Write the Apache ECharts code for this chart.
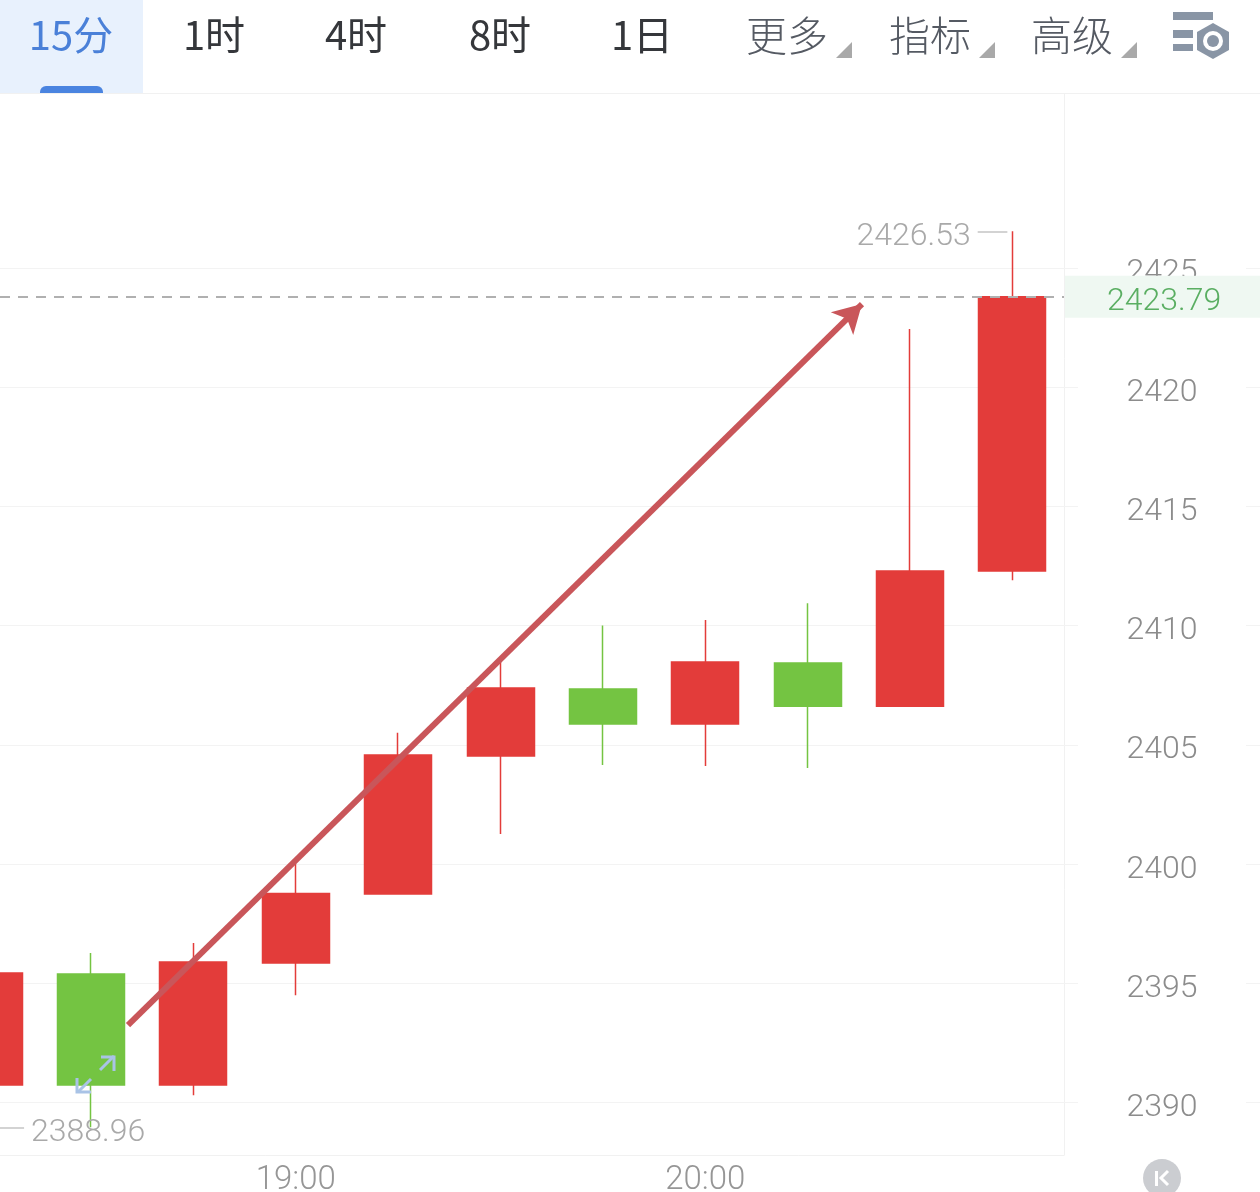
<!DOCTYPE html>
<html><head><meta charset="utf-8">
<style>html,body{margin:0;padding:0;background:#fff}#c{width:1260px;height:1192px}</style>
<script src="https://cdn.jsdelivr.net/npm/echarts@6/dist/echarts.min.js"></script>
</head><body><div id="c"></div>
<script>
const times = ['18:15','18:30','18:45','19:00','19:15','19:30','19:45','20:00','20:15','20:30','20:45'];
const opens  = [2390.73,2395.39,2390.73,2395.85,2398.74,2404.53,2407.34,2405.87,2408.43,2406.62,2412.29];
const closes = [2395.43,2390.73,2395.89,2398.76,2404.57,2407.38,2405.87,2408.47,2406.62,2412.29,2423.79];
const lows   = [2390.73,2388.96,2390.31,2394.50,2398.74,2401.26,2404.15,2404.11,2404.03,2406.62,2411.90];
const highs  = [2395.43,2396.27,2396.69,2400.00,2405.50,2408.55,2410.00,2410.23,2410.94,2422.43,2426.53];
const yTicks = [2390,2395,2400,2405,2410,2415,2420,2425];
const xTicks = [3,7];
const lastPrice = 2423.79;
const highLabel = {value:2426.53, from:9.66, to:9.95};
const lowLabel  = {value:2388.96, from:0.112, to:0.347};
const arrowFrom = [1.362,2393.25];
const arrowTo   = [8.53,2423.48];
const tabs = [['15分',71],['1时',214],['4时',356],['8时',500],['1日',642]];
const menus = [['更多',787],['指标',930],['高级',1072]];

const NUM = 'Roboto, sans-serif';
const CJK = '"Noto Sans CJK SC", sans-serif';
const G = '#f3f3f3';
const candles = times.map((t,i)=>[i,opens[i],closes[i],lows[i],highs[i]]);

const graphic = [
  {type:'rect',z:100,shape:{x:0,y:0,width:1260,height:93},style:{fill:'#fff'}},
  {type:'rect',z:101,shape:{x:0,y:0,width:143,height:93},style:{fill:'#e8f1fd'}},
  {type:'rect',z:102,shape:{x:40,y:86,width:63,height:7,r:[6,6,0,0]},style:{fill:'#4a84e0'}},
  {type:'line',z:101,shape:{x1:0,y1:93.5,x2:1260,y2:93.5},style:{stroke:'#f1f1f1',lineWidth:1}},
  {type:'rect',z:102,shape:{x:1173,y:12,width:40,height:8},style:{fill:'#8995a5'}},
  {type:'rect',z:102,shape:{x:1173,y:30,width:20,height:8},style:{fill:'#8995a5'}},
  {type:'rect',z:102,shape:{x:1173,y:44,width:20,height:7},style:{fill:'#8995a5'}},
  {type:'polygon',z:102,shape:{points:[[1213,23],[1229,32],[1229,50],[1213,59],[1197,50],[1197,32]]},style:{fill:'#8995a5'}},
  {type:'circle',z:103,shape:{cx:1213,cy:41,r:10},style:{fill:'#fff'}},
  {type:'circle',z:104,shape:{cx:1213,cy:41,r:6},style:{fill:'#8995a5'}},
  {type:'polyline',z:61,shape:{points:[[100,1070],[114,1056]]},style:{stroke:'#a9c3e6',lineWidth:3,fill:null}},
  {type:'polyline',z:61,shape:{points:[[101,1057],[114,1057],[114,1071]]},style:{stroke:'#a9c3e6',lineWidth:3,fill:null}},
  {type:'polyline',z:61,shape:{points:[[91,1079],[78,1092]]},style:{stroke:'#a9c3e6',lineWidth:3,fill:null}},
  {type:'polyline',z:61,shape:{points:[[77,1078],[77,1092],[91,1092]]},style:{stroke:'#a9c3e6',lineWidth:3,fill:null}},
  {type:'circle',z:60,shape:{cx:1162,cy:1178,r:19},style:{fill:'#cbcdd1'}},
  {type:'rect',z:61,shape:{x:1155,y:1171,width:3,height:15},style:{fill:'#fff'}},
  {type:'polyline',z:61,shape:{points:[[1168,1171],[1161,1178],[1168,1185]]},style:{stroke:'#fff',lineWidth:3,fill:null}}
];
tabs.forEach((t,i)=>graphic.push({type:'text',z:105,x:t[1],y:35,style:{text:t[0],font:'400 40px '+CJK,fill:i===0?'#4a80d8':'#35373b',textAlign:'center',textVerticalAlign:'middle'}}));
menus.forEach(m=>{
  graphic.push({type:'text',z:105,x:m[1],y:35,style:{text:m[0],font:'300 41px '+CJK,fill:'#555a63',textAlign:'center',textVerticalAlign:'middle'}});
  const r=m[1]+65,b=58;
  graphic.push({type:'polygon',z:105,shape:{points:[[r,b-16],[r,b],[r-16,b]]},style:{fill:'#a9a9a9'}});
});

const chart = echarts.init(document.getElementById('c'),null,{renderer:'canvas'});
chart.setOption({
  animation:false,
  backgroundColor:'#fff',
  grid:{left:0,right:196,top:93,bottom:37,containLabel:false,outerBoundsMode:'none'},
  xAxis:{type:'value',min:0.112,max:10.503,
     axisLine:{show:true,onZero:false,lineStyle:{color:'#f1f1f1',width:1}},
     axisTick:{show:false,customValues:xTicks},splitLine:{show:false},
     axisLabel:{customValues:xTicks,formatter:(v)=>times[v],hideOverlap:false,margin:9,color:'#969696',fontFamily:NUM,fontSize:33,fontWeight:300}},
  yAxis:[
    {type:'value',position:'right',min:2387.8,max:2432.33,scale:true,
     axisLine:{show:true,onZero:false,lineStyle:{color:'#f1f1f1',width:1}},
     axisTick:{show:true,length:14,customValues:yTicks,lineStyle:{color:G}},
     splitLine:{show:true,lineStyle:{color:G,width:1}},
     axisLabel:{customValues:yTicks,formatter:(v)=>String(v),margin:98,align:'center',verticalAlign:'top',hideOverlap:false,color:'#8c8c8c',fontFamily:NUM,fontSize:32,fontWeight:300,lineHeight:11}},
    {type:'value',position:'right',offset:196,min:2387.8,max:2432.33,scale:true,
     axisLine:{show:false,onZero:false},splitLine:{show:false},axisLabel:{show:false},
     axisTick:{show:true,inside:true,length:14,customValues:yTicks,lineStyle:{color:G}}}
  ],
  series:[
    {type:'candlestick',data:candles,encode:{x:0,y:[1,2,3,4]},barWidth:67.5,
     itemStyle:{color:'#e33c3a',color0:'#74c442',borderColor:'#e33c3a',borderColor0:'#74c442',borderWidth:1.5},
     markLine:{silent:true,symbol:'none',z:8,
       lineStyle:{color:'#b0b0b0',type:[10,8],width:2},
       data:[
        {yAxis:lastPrice,
         label:{show:true,position:'end',distance:1,formatter:'  ',width:195,height:42,lineHeight:42,align:'left',backgroundColor:'#eff8f2'}},
        {yAxis:lastPrice,
         label:{show:true,position:'end',distance:43,formatter:String(lastPrice),align:'left',verticalAlign:'top',lineHeight:11,color:'#5aae62',fontFamily:NUM,fontSize:32,fontWeight:300}}
       ]}},
    {type:'line',data:[],silent:true,z:6,
     markLine:{silent:true,z:6,symbol:['none','none'],
       lineStyle:{color:'#c4c4c4',type:'solid',width:1.5},
       data:[
        [{coord:[highLabel.from,highLabel.value],label:{show:true,position:'start',distance:7,verticalAlign:'top',lineHeight:11,formatter:highLabel.value.toFixed(2),color:'#a9a9a9',fontFamily:NUM,fontSize:32,fontWeight:300}},
         {coord:[highLabel.to,highLabel.value]}],
        [{coord:[lowLabel.from,lowLabel.value]},
         {coord:[lowLabel.to,lowLabel.value],label:{show:true,position:'end',distance:7,verticalAlign:'top',lineHeight:11,formatter:lowLabel.value.toFixed(2),color:'#a9a9a9',fontFamily:NUM,fontSize:32,fontWeight:300}}]
       ]}},
    {type:'line',data:[],silent:true,z:7,
     markLine:{silent:true,z:7,symbol:['none','arrow'],symbolSize:[24,28],
       lineStyle:{color:'#c9565a',type:'solid',width:6},label:{show:false},
       data:[[{coord:arrowFrom},{coord:arrowTo}]]}}
  ],
  graphic:graphic
});
</script></body></html>
